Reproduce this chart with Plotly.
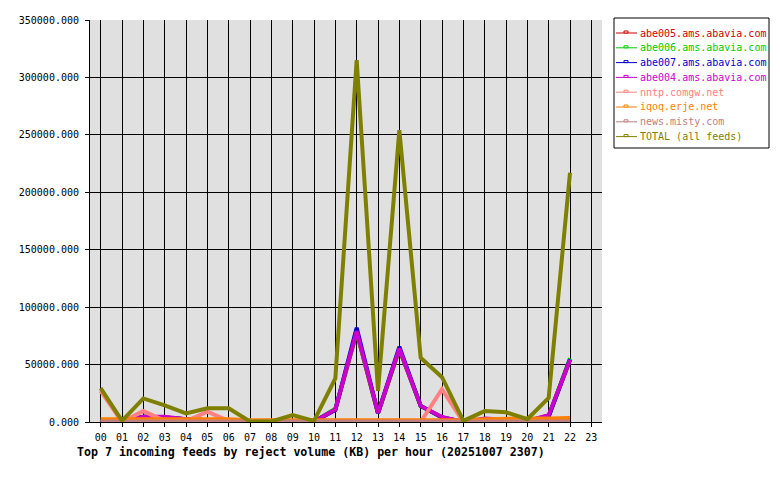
import plotly.graph_objects as go

# hours on the x axis (data only up to 22)
hour_labels = ["%02d" % h for h in range(24)]
hours = hour_labels[:23]

feed_names = [
    "abe005.ams.abavia.com",
    "abe006.ams.abavia.com",
    "abe007.ams.abavia.com",
    "abe004.ams.abavia.com",
    "nntp.comgw.net",
    "iqoq.erje.net",
    "news.misty.com",
    "TOTAL (all feeds)",
]
feed_colors = ["#CC0000", "#00CC00", "#0000CC", "#CC00CC",
               "#FF8080", "#FF8000", "#C08080", "#808000"]

# reject volume (KB) per hour
abe005 = [0, 0, 4500, 4000, 2500, 1500, 1000, 0, 0, 300, 500, 10500, 78000, 7500,
          63000, 14000, 4000, 0, 2500, 2000, 1000, 5500, 54000]
abe006 = [0, 0, 4500, 4000, 2500, 1500, 1000, 0, 0, 300, 500, 11500, 78500, 7500,
          63500, 14000, 4000, 0, 2500, 2000, 1000, 5000, 55500]
abe007 = [0, 0, 4500, 4000, 2500, 1500, 1000, 0, 0, 300, 500, 10500, 82000, 7800,
          65500, 14000, 4000, 0, 2500, 2000, 1000, 4500, 54500]
abe004 = [0, 0, 4600, 4500, 2500, 1500, 1000, 0, 0, 300, 500, 11000, 79000, 7800,
          64000, 14000, 4300, 0, 3000, 2000, 1000, 6000, 54000]
nntp = [27000, 0, 9500, 1000, 500, 9000, 1000, 0, 0, 0, 0, 0, 0, 0,
        0, 0, 28500, 0, 0, 0, 0, 0, 0]
iqoq = [2500, 2500, 2500, 2000, 2000, 2500, 2500, 1500, 1500, 1500, 1500, 1500, 1500, 1500,
        1500, 1500, 1500, 1500, 2500, 3000, 3000, 3000, 3500]
news = [500] * 23
total = [29500, 1000, 20500, 14500, 7500, 12000, 12000, 500, 500, 6000, 1000, 38000, 315000, 27000,
         254000, 56000, 39000, 1000, 9500, 8500, 2500, 21000, 217000]

series = [abe005, abe006, abe007, abe004, nntp, iqoq, news, total]

mono = "DejaVu Sans Mono"
# the page body adds an 8px margin, so the figure is a bit smaller than the window
OFF = 8
W, H = 780 - OFF, 480 - OFF
L, R, T, B = 90 - OFF, 178, 20 - OFF, 58
pw, ph = W - L - R, H - T - B


def px(x):
    # page pixel -> paper coordinate
    return (x - OFF - L) / pw


def py(y):
    return (H - B - (y - OFF)) / ph


fig = go.Figure()

for name, color, vals in zip(feed_names, feed_colors, series):
    fig.add_trace(go.Scatter(
        x=hours, y=vals, mode="lines", name=name,
        line=dict(color=color, width=4),
        hoverinfo="x+y+name",
    ))

# legend box drawn by hand (gd-style: thin line, tiny marker, coloured text)
shapes = [dict(type="rect", xref="paper", yref="paper",
               x0=px(614), x1=px(769), y0=py(18), y1=py(148),
               fillcolor="white", line=dict(color="black", width=1))]
annotations = []
for i, (name, color) in enumerate(zip(feed_names, feed_colors)):
    yc = 33 + 14.8 * i
    shapes.append(dict(type="line", xref="paper", yref="paper",
                       x0=px(616), x1=px(637), y0=py(yc), y1=py(yc),
                       line=dict(color=color, width=1)))
    shapes.append(dict(type="rect", xref="paper", yref="paper",
                       x0=px(624), x1=px(628), y0=py(yc - 2), y1=py(yc),
                       fillcolor="white", line=dict(color=color, width=1)))
    annotations.append(dict(text=name, xref="paper", yref="paper",
                            x=px(638), y=py(yc), xanchor="left", yanchor="middle",
                            showarrow=False,
                            font=dict(family=mono, size=10, color=color)))

annotations.append(dict(
    text="<b>Top 7 incoming feeds by reject volume (KB) per hour (20251007 2307)</b>",
    xref="paper", yref="paper", x=px(75), y=py(452),
    xanchor="left", yanchor="middle", showarrow=False,
    font=dict(family=mono, size=11.6, color="black"),
))

fig.update_layout(
    width=W, height=H,
    margin=dict(l=L, r=R, t=T, b=B),
    paper_bgcolor="white", plot_bgcolor="#E0E0E0",
    showlegend=False,
    shapes=shapes, annotations=annotations,
    xaxis=dict(
        type="category", categoryorder="array", categoryarray=hour_labels,
        range=[-0.5, 23.5], tickvals=hour_labels,
        showgrid=True, gridcolor="black", gridwidth=1,
        showline=True, linecolor="black", linewidth=1,
        ticks="outside", ticklen=4, tickcolor="black", ticklabelstandoff=2,
        tickfont=dict(family=mono, size=10, color="black"),
        zeroline=False, fixedrange=True, automargin=False,
    ),
    yaxis=dict(
        range=[0, 350000], dtick=50000, tickformat=".3f",
        showgrid=True, gridcolor="black", gridwidth=1,
        showline=True, linecolor="black", linewidth=1,
        ticks="outside", ticklen=4, tickcolor="black", ticklabelstandoff=4,
        tickfont=dict(family=mono, size=10, color="black"),
        zeroline=False, fixedrange=True, automargin=False,
    ),
)

fig.write_html("out.html")
